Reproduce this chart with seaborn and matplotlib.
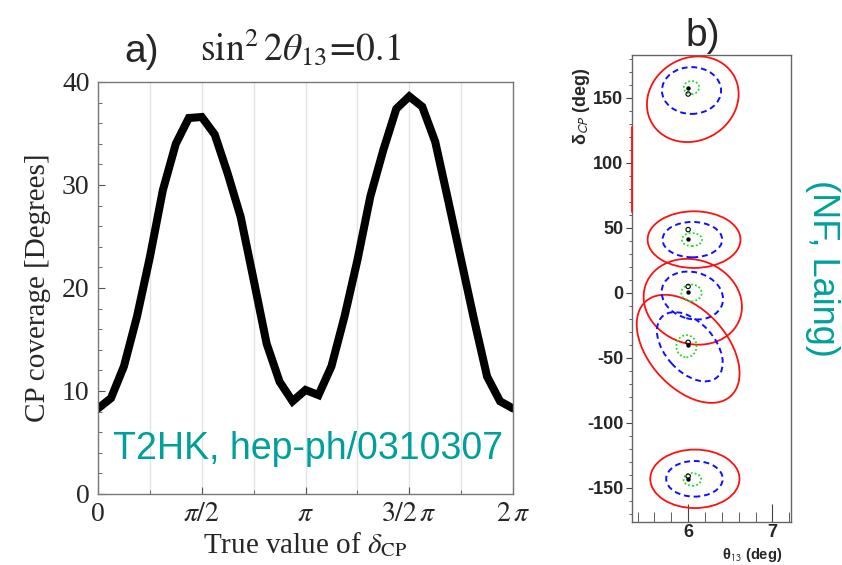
import numpy as np
import pandas as pd
import matplotlib
matplotlib.use("Agg")
import matplotlib.pyplot as plt
import matplotlib.transforms as mtransforms
from matplotlib.patches import Ellipse
from matplotlib.ticker import MultipleLocator, FixedLocator
import seaborn as sns

# ---- panel a: T2HK CP coverage vs true delta_CP (x in units of pi)
dcp_over_pi = [0.0, 0.0625, 0.125, 0.1875, 0.25, 0.3125, 0.375, 0.4375, 0.5,
               0.5625, 0.625, 0.6875, 0.75, 0.8125, 0.875, 0.9375, 1.0,
               1.0625, 1.125, 1.1875, 1.25, 1.3125, 1.375, 1.4375, 1.5,
               1.5625, 1.625, 1.6875, 1.75, 1.8125, 1.875, 1.9375, 2.0]
cp_coverage = [8.3, 9.3, 12.4, 17.2, 23.0, 29.5, 34.0, 36.5, 36.6,
               34.9, 31.1, 26.9, 20.8, 14.6, 10.9, 9.0, 10.1,
               9.6, 12.4, 17.2, 22.7, 28.9, 33.4, 37.4, 38.6,
               37.6, 34.2, 28.5, 22.7, 16.9, 11.4, 9.0, 8.3]
xtick_over_pi = [0, 0.5, 1.0, 1.5, 2.0]
xtick_labels = ["0", r"$\pi/2$", r"$\pi$", r"$3/2\,\pi$", r"$2\,\pi$"]

# ---- panel b: NF (Laing) allowed regions, theta13 vs delta_CP
# ellipse centres and semi-axes (semi-axes in delta-degrees, angle in degrees)
red_theta = [6.055, 6.07, 6.055, 6.00, 6.08]
red_delta = [149, 41, -6.8, -43, -143]
red_a = [36.5, 35.8, 38.6, 49, 34.4]
red_b = [31.7, 21.8, 32.2, 30, 22.5]
red_angle = [30, 0, -20, -48, 0]

blue_theta = [6.04, 6.05, 6.05, 6.02, 6.075]
blue_delta = [155.7, 41, -2, -41.4, -143]
blue_a = [22.8, 23, 24, 31.5, 21.8]
blue_b = [18, 13.6, 18, 19, 13.7]
blue_angle = [0, 0, -15, -48, 0]

green_theta = [6.04, 6.045, 6.04, 5.98, 6.05]
green_delta = [158, 41, 0, -41, -143.5]
green_a = [5.9, 7.8, 7.8, 7.8, 6.8]
green_b = [5, 5, 6.5, 8.5, 4.9]
green_angle = [0, 0, 0, 0, 0]

fit_theta = [6.0, 6.0, 6.0, 6.0, 6.0]
fit_delta = [157.7, 41.5, 0.4, -40, -143]
true_theta = [6.0, 6.0, 6.0, 6.0, 6.0]
true_delta = [153, 48.7, 5, -38, -141]

edge_theta = [5.335, 5.335]
edge_delta = [62, 128]

TEAL = "#00A09A"
ASPECT = 65.0  # delta-degrees per theta-degree on screen

sns.set_style("white")
plt.rcParams["mathtext.fontset"] = "stix"
plt.rcParams["axes.unicode_minus"] = False
plt.rcParams["font.family"] = ["Liberation Serif", "DejaVu Serif"]

fig = plt.figure(figsize=(8.42, 5.65), dpi=100)

# ---------------- panel a
ax = fig.add_axes([0.1164, 0.1257, 0.4929, 0.7292])
df = pd.DataFrame({"dcp": np.array(dcp_over_pi) * np.pi, "cov": cp_coverage})
for k in range(1, 8):
    ax.axvline(k * np.pi / 4, color="#e2e2e2", lw=1.0, zorder=0)
sns.lineplot(data=df, x="dcp", y="cov", color="black", lw=5.8, ax=ax,
             estimator=None, sort=False, solid_joinstyle="miter")
ax.set_xlim(0, 2 * np.pi)
ax.set_ylim(0, 40)
ax.set_xticks(np.array(xtick_over_pi) * np.pi)
ax.set_xticklabels(xtick_labels)
ax.xaxis.set_minor_locator(MultipleLocator(np.pi / 4))
ax.set_yticks([0, 10, 20, 30, 40])
ax.yaxis.set_minor_locator(MultipleLocator(2))
ax.tick_params(axis="both", which="both", direction="in", labelsize=20,
               color="#555555", pad=6, bottom=True, left=True)
ax.tick_params(which="major", length=5)
ax.tick_params(which="minor", length=3)
for s in ax.spines.values():
    s.set_color("#777777")
    s.set_linewidth(1.0)
ax.set_xlabel(r"True value of $\delta_{\mathrm{CP}}$", fontsize=21, labelpad=2)
ax.set_ylabel("CP coverage [Degrees]", fontsize=21, labelpad=8)
ax.text(0.035, 0.085, "T2HK, hep-ph/0310307", transform=ax.transAxes,
        fontsize=27, color=TEAL, family=["Liberation Sans", "DejaVu Sans"],
        ha="left", va="baseline")
fig.text(0.148, 0.89, "a)", fontsize=28, family=["Liberation Sans", "DejaVu Sans"],
         ha="left", va="baseline")
fig.text(0.237, 0.894, r"$\sin^2 2\theta_{13}\!=\!0.1$", fontsize=27,
         ha="left", va="baseline")

# ---------------- panel b
bx = fig.add_axes([0.7502, 0.0766, 0.1892, 0.826])
bx.set_xlim(5.33, 7.22)
bx.set_ylim(-176, 183)


def draw_regions(cx, cy, a, b, ang, **kw):
    for x0, y0, aa, bb, an in zip(cx, cy, a, b, ang):
        tr = mtransforms.Affine2D().scale(1.0 / ASPECT, 1.0).translate(x0, y0) + bx.transData
        bx.add_patch(Ellipse((0, 0), 2 * aa, 2 * bb, angle=an, fill=False,
                             transform=tr, **kw))


draw_regions(red_theta, red_delta, red_a, red_b, red_angle,
             edgecolor="#ff1010", lw=1.3)
draw_regions(blue_theta, blue_delta, blue_a, blue_b, blue_angle,
             edgecolor="#1010ff", lw=1.4, linestyle=(0, (3, 2)))
draw_regions(green_theta, green_delta, green_a, green_b, green_angle,
             edgecolor="#20dd20", lw=1.3, linestyle=(0, (1, 1.2)))
bx.plot(edge_theta, edge_delta, color="#ff1010", lw=1.3, zorder=4, clip_on=False)
sns.scatterplot(x=fit_theta, y=fit_delta, color="black", s=10, ax=bx,
                linewidth=0, zorder=5)
sns.scatterplot(x=true_theta, y=true_delta, facecolor="none", edgecolor="black",
                s=10, ax=bx, linewidth=0.8, zorder=5)

bx.xaxis.set_major_locator(FixedLocator([6, 7]))
bx.xaxis.set_minor_locator(FixedLocator([5.4, 5.6, 5.8, 6.2, 6.4, 6.6, 6.8, 7.2]))
bx.yaxis.set_major_locator(MultipleLocator(50))
bx.yaxis.set_minor_locator(MultipleLocator(10))
bx.tick_params(axis="x", which="both", direction="in", labelsize=13, pad=2,
               color="#444444", bottom=True)
bx.tick_params(axis="x", which="major", length=13)
bx.tick_params(axis="x", which="minor", length=7)
bx.tick_params(axis="y", which="both", direction="out", labelsize=13, pad=2,
               color="#444444", left=True)
bx.tick_params(axis="y", which="major", length=4)
bx.tick_params(axis="y", which="minor", length=2)
for lab in bx.get_xticklabels() + bx.get_yticklabels():
    lab.set_family(["Liberation Sans", "DejaVu Sans"])
    lab.set_fontweight("bold")
for s in bx.spines.values():
    s.set_color("#666666")
    s.set_linewidth(1.0)

fig.text(0.691, 0.811, r"δ$_{\mathsf{CP}}$ (deg)", rotation=90, fontsize=13,
         fontweight="bold", family=["Liberation Sans", "DejaVu Sans"],
         ha="center", va="center")
fig.text(0.893, 0.034, r"θ$_{\mathsf{13}}$ (deg)", fontsize=10.5,
         fontweight="bold", family=["Liberation Sans", "DejaVu Sans"],
         ha="center", va="top")
fig.text(0.835, 0.918, "b)", fontsize=28, family=["Liberation Sans", "DejaVu Sans"],
         ha="center", va="baseline")
fig.text(0.977, 0.525, "(NF, Laing)", rotation=-90, fontsize=26, color=TEAL,
         family=["Liberation Sans", "DejaVu Sans"], ha="center", va="center")

plt.savefig("out.png", dpi=100)
